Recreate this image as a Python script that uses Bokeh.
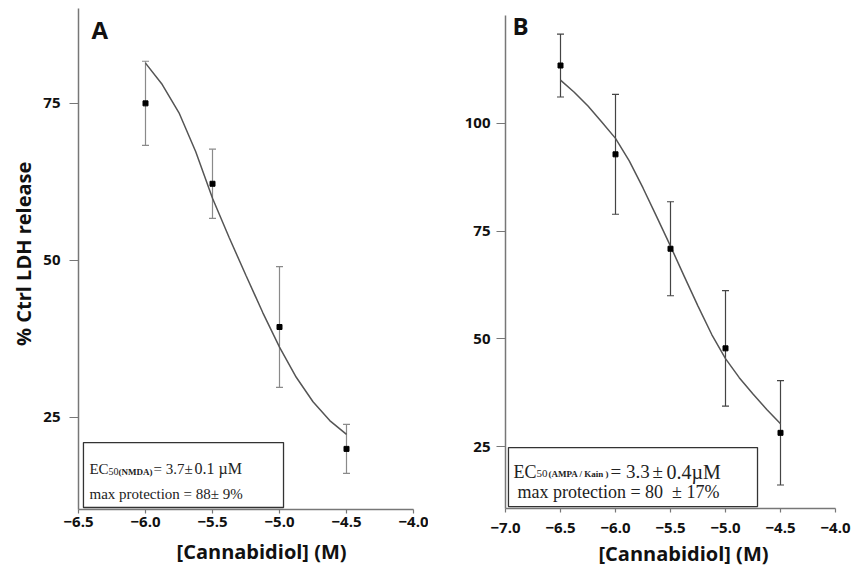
from bokeh.plotting import figure
from bokeh.layouts import row
from bokeh.models import (Range1d, FixedTicker, Whisker, TeeHead, ColumnDataSource,
                          BoxAnnotation, Label, CustomJSTickFormatter)
from bokeh.embed import file_html
from bokeh.resources import INLINE

# ---------------- data ----------------
# Panel A : NMDA
a_conc = [-6.0, -5.5, -5.0, -4.5]
a_ldh = [75.0, 62.2, 39.4, 20.0]
a_sem = [6.7, 5.5, 9.6, 3.9]
a_fit_conc = [-6.0, -5.875, -5.75, -5.625, -5.5, -5.375, -5.25, -5.125,
              -5.0, -4.875, -4.75, -4.625, -4.5]
a_fit_ldh = [81.4, 78.0, 73.5, 67.3, 59.9, 53.6, 47.6, 41.7,
             36.2, 31.4, 27.5, 24.5, 22.3]
a_xticks = [-6.5, -6.0, -5.5, -5.0, -4.5, -4.0]
a_yticks = [25, 50, 75]

# Panel B : AMPA / Kainate
b_conc = [-6.5, -6.0, -5.5, -5.0, -4.5]
b_ldh = [113.4, 92.8, 70.9, 47.8, 28.2]
b_sem = [7.3, 13.9, 10.9, 13.4, 12.1]
b_fit_conc = [-6.5, -6.375, -6.25, -6.125, -6.0, -5.875, -5.75, -5.625, -5.5,
              -5.375, -5.25, -5.125, -5.0, -4.875, -4.75, -4.625, -4.5]
b_fit_ldh = [110.0, 107.2, 104.0, 100.3, 96.5, 91.3, 85.0, 78.3, 71.5,
             64.5, 57.6, 51.0, 45.4, 41.0, 37.2, 33.6, 30.3]
b_xticks = [-7.0, -6.5, -6.0, -5.5, -5.0, -4.5, -4.0]
b_yticks = [25, 50, 75, 100]

x_title = "[Cannabidiol] (M)"
y_title = "% Ctrl LDH release"

# ---------------- styling helpers ----------------
SANS = "Open Sans"
SERIF = "Liberation Serif"
AXIS_COL = "#777777"
NB = "\u00a0"   # non-breaking space, used only to nudge centred axis titles

minus_fmt = CustomJSTickFormatter(
    code="return (tick < 0 ? '\\u2212' : '') + Math.abs(tick).toFixed(1);")


def base_fig(width, height, xr, yr, bl, br, bt, bb):
    p = figure(width=width, height=height, x_range=Range1d(*xr), y_range=Range1d(*yr),
               output_backend="svg", toolbar_location=None,
               min_border_left=bl, min_border_right=br, min_border_top=bt,
               min_border_bottom=bb, frame_align=False)
    p.title = None
    p.xgrid.visible = False
    p.ygrid.visible = False
    p.outline_line_color = None
    for ax in (p.xaxis, p.yaxis):
        ax.axis_line_color = AXIS_COL
        ax.axis_line_width = 1.5
        ax.major_tick_line_color = AXIS_COL
        ax.major_tick_line_width = 1.2
        ax.minor_tick_line_color = None
        ax.major_tick_in = 0
        ax.major_label_text_font = SANS
        ax.major_label_text_font_style = "bold"
        ax.major_label_text_font_size = "15px"
        ax.major_label_text_color = "#111111"
        ax.axis_label_text_font = SANS
        ax.axis_label_text_font_style = "bold"
        ax.axis_label_text_font_size = "20px"
        ax.axis_label_text_color = "#111111"
    p.xaxis.major_tick_out = 4
    p.xaxis.major_label_standoff = 3
    p.xaxis.formatter = minus_fmt
    p.yaxis.major_tick_out = 9
    return p


def add_series(p, xs, ys, es, fx, fy, err_col):
    src = ColumnDataSource(dict(x=xs, y=ys,
                                upper=[m + e for m, e in zip(ys, es)],
                                lower=[m - e for m, e in zip(ys, es)]))
    w = Whisker(source=src, base="x", upper="upper", lower="lower",
                line_color=err_col, line_width=1.2,
                upper_head=TeeHead(size=7, line_color=err_col, line_width=1.2),
                lower_head=TeeHead(size=7, line_color=err_col, line_width=1.2))
    p.add_layout(w)
    p.line(fx, fy, line_color="#555555", line_width=1.5)
    p.scatter("x", "y", source=src, marker="square", size=5,
              fill_color="black", line_color="black")


def add_text(p, x, y, dx, dy, text, size, font=SERIF, style="normal",
             baseline="alphabetic", color="#222222"):
    p.add_layout(Label(x=x, y=y, x_offset=dx, y_offset=dy, text=text,
                       text_font=font, text_font_size=size, text_font_style=style,
                       text_color=color, text_baseline=baseline,
                       text_align="left"))


# ---------------- Panel A ----------------
a_xr = (-6.5, -4.0)
a_yr = (10.35, 90.1)
pA = base_fig(428, 569, a_xr, a_yr, 78, 15, 8, 60)
pA.xaxis.ticker = FixedTicker(ticks=a_xticks)
pA.yaxis.ticker = FixedTicker(ticks=a_yticks)
pA.yaxis.major_label_standoff = 9
pA.yaxis.axis_label = NB * 2 + y_title
pA.yaxis.axis_label_standoff = 3
pA.xaxis.axis_label = NB * 6 + x_title
pA.xaxis.axis_label_standoff = 8
add_series(pA, a_conc, a_ldh, a_sem, a_fit_conc, a_fit_ldh, "#8a8a8a")

# legend box A
a_box = dict(left=-6.463, right=-4.970, top=21.0, bottom=10.67)
pA.add_layout(BoxAnnotation(left=a_box["left"], right=a_box["right"], top=a_box["top"],
                            bottom=a_box["bottom"], fill_color="white", fill_alpha=1.0,
                            line_color="#333333", line_width=1.3, line_alpha=1.0,
                            level="annotation"))
bx, by = a_box["left"], a_box["top"]
add_text(pA, bx, by, 6, -26, "EC", "15px")
add_text(pA, bx, by, 25, -29, "50", "10px")
add_text(pA, bx, by, 35, -29, "(NMDA)", "9px", style="bold")
add_text(pA, bx, by, 70, -26, "= 3.7\u00b1", "15px")
add_text(pA, bx, by, 111, -26, "0.1 \u00b5M", "16px")
add_text(pA, bx, by, 6, -51, "max protection = 88\u00b1 9%", "15px")
add_text(pA, a_xr[0], a_yr[1], 13, -4, "A", "24px", font=SANS, style="bold",
         baseline="top", color="#111111")

# ---------------- Panel B ----------------
b_xr = (-7.0, -4.0)
b_yr = (10.65, 125.0)
pB = base_fig(424, 569, b_xr, b_yr, 77, 17, 15, 60)
pB.xaxis.ticker = FixedTicker(ticks=b_xticks)
pB.yaxis.ticker = FixedTicker(ticks=b_yticks)
pB.yaxis.major_label_standoff = 6
pB.xaxis.major_label_standoff = 10
pB.xaxis.axis_label = NB * 5 + x_title
pB.xaxis.axis_label_standoff = 4
add_series(pB, b_conc, b_ldh, b_sem, b_fit_conc, b_fit_ldh, "#444444")

b_box = dict(left=-6.973, right=-4.709, top=24.77, bottom=11.1)
pB.add_layout(BoxAnnotation(left=b_box["left"], right=b_box["right"], top=b_box["top"],
                            bottom=b_box["bottom"], fill_color="white", fill_alpha=1.0,
                            line_color="#333333", line_width=1.3, line_alpha=1.0,
                            level="annotation"))
bx, by = b_box["left"], b_box["top"]
add_text(pB, bx, by, 5, -24, "EC", "18px")
add_text(pB, bx, by, 28, -26, "50", "11px")
add_text(pB, bx, by, 40, -26, "(AMPA / Kain )", "9px", style="bold")
add_text(pB, bx, by, 102, -24, "= 3.3", "19px")
add_text(pB, bx, by, 144, -24, "\u00b1", "19px")
add_text(pB, bx, by, 158, -24, "0.4\u00b5M", "20px")
add_text(pB, bx, by, 9, -44, "max protection = 80\u00a0\u00a0\u00b1 17%", "18px")
add_text(pB, b_xr[0], b_yr[1], 7, 7, "B", "24px", font=SANS, style="bold",
         baseline="top", color="#111111")

layout = row(pA, pB)
open("out.html", "w").write(file_html(layout, INLINE))
